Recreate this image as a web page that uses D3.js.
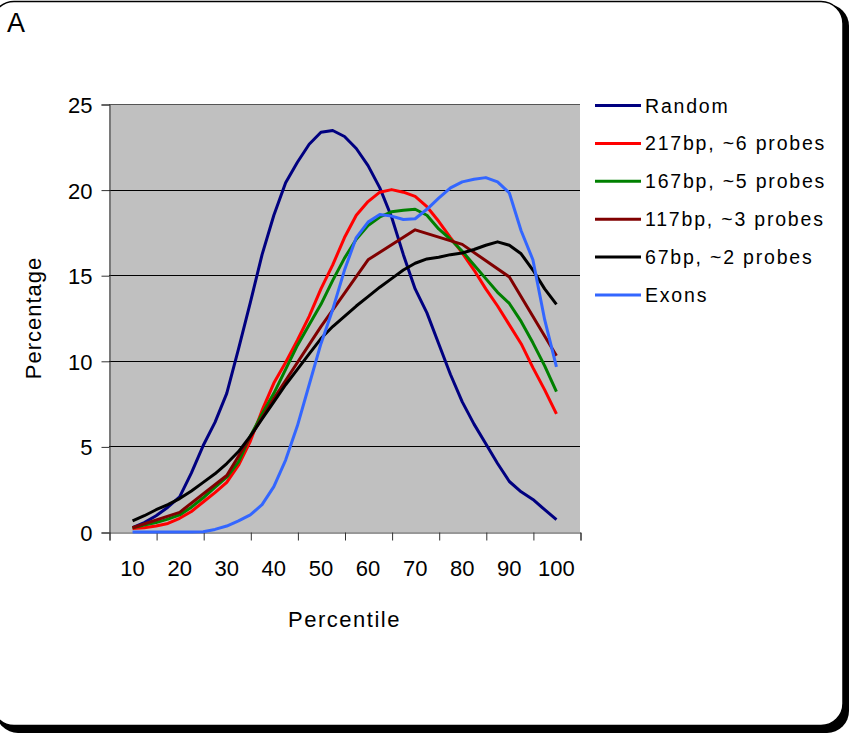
<!DOCTYPE html>
<html>
<head>
<meta charset="utf-8">
<script src="https://cdn.jsdelivr.net/npm/d3@7"></script>
<style>
  body { margin: 0; background: #fff; }
  svg { display: block; font-family: "Liberation Sans", Arial, sans-serif; }
</style>
</head>
<body>
<div id="chart"></div>
<script>
// percentile positions for the finely sampled series
const pctFine = [10, 12.5, 15, 17.5, 20, 22.5, 25, 27.5, 30, 32.5, 35, 37.5, 40, 42.5, 45, 47.5, 50,
    52.5, 55, 57.5, 60, 62.5, 65, 67.5, 70, 72.5, 75, 77.5, 80, 82.5, 85, 87.5, 90, 92.5, 95, 97.5, 100];
const pctCoarse = [10, 20, 30, 40, 50, 60, 70, 80, 90, 100];
const xTickLabels = [10, 20, 30, 40, 50, 60, 70, 80, 90, 100];
const yTicks = [0, 5, 10, 15, 20, 25];

const randomVals = [0.25, 0.55, 0.95, 1.45, 2.05, 3.45, 5.05, 6.4, 8.1, 10.7, 13.4, 16.2, 18.5, 20.4, 21.6, 22.65, 23.35,
    23.45, 23.1, 22.4, 21.4, 20.1, 18.4, 16.2, 14.2, 12.8, 11.0, 9.2, 7.6, 6.3, 5.15, 4.0, 2.95, 2.35, 1.9, 1.3, 0.72];
const bp217Vals = [0.2, 0.25, 0.35, 0.5, 0.8, 1.2, 1.75, 2.3, 2.9, 3.9, 5.3, 7.1, 8.7, 9.9, 11.2, 12.6, 14.2,
    15.6, 17.2, 18.5, 19.3, 19.85, 20.0, 19.85, 19.6, 19.0, 18.15, 17.2, 16.3, 15.3, 14.2, 13.2, 12.1, 11.0, 9.6, 8.3, 6.9];
const bp167Vals = [0.25, 0.4, 0.55, 0.75, 1.0, 1.45, 2.0, 2.6, 3.2, 4.1, 5.6, 6.9, 8.1, 9.5, 10.9, 12.1, 13.3,
    14.7, 16.0, 17.1, 17.9, 18.4, 18.7, 18.8, 18.85, 18.5, 17.7, 17.1, 16.4, 15.6, 14.8, 14.0, 13.35, 12.3, 11.05, 9.7, 8.2];
const bp67Vals = [0.65, 0.95, 1.3, 1.6, 1.95, 2.4, 2.9, 3.4, 4.0, 4.7, 5.6, 6.6, 7.6, 8.6, 9.5, 10.4, 11.3,
    12.0, 12.6, 13.2, 13.75, 14.3, 14.8, 15.3, 15.7, 15.95, 16.05, 16.2, 16.3, 16.5, 16.75, 16.95, 16.75, 16.25, 15.3, 14.2, 13.3];
const exonVals = [0, 0, 0, 0, 0, 0, 0.02, 0.15, 0.35, 0.65, 1.0, 1.6, 2.65, 4.2, 6.2, 8.6, 11.0,
    13.0, 15.3, 17.2, 18.1, 18.55, 18.45, 18.25, 18.3, 18.85, 19.5, 20.1, 20.45, 20.6, 20.7, 20.45, 19.8, 17.6, 15.9, 12.4, 9.65];
const bp117Vals = [0.25, 1.15, 3.3, 7.8, 12.0, 15.9, 17.65, 16.8, 14.9, 10.3];

const seriesNames = ['Random', '217bp, ~6 probes', '167bp, ~5 probes', '117bp, ~3 probes', '67bp, ~2 probes', 'Exons'];
const seriesColors = ['#000080', '#ff0000', '#008000', '#800000', '#000000', '#3366ff'];

const series = [
    {name: seriesNames[0], x: pctFine, y: randomVals, color: seriesColors[0]},
    {name: seriesNames[1], x: pctFine, y: bp217Vals, color: seriesColors[1]},
    {name: seriesNames[2], x: pctFine, y: bp167Vals, color: seriesColors[2]},
    {name: seriesNames[3], x: pctCoarse, y: bp117Vals, color: seriesColors[3]},
    {name: seriesNames[4], x: pctFine, y: bp67Vals, color: seriesColors[4]},
    {name: seriesNames[5], x: pctFine, y: exonVals, color: seriesColors[5]}
];

const width = 850, height = 733;
const plot = {left: 109, right: 580, top: 104, bottom: 532};

const svg = d3.select('#chart').append('svg')
    .attr('width', width)
    .attr('height', height);

// frame with shadow
svg.append('rect')
    .attr('x', -4).attr('y', 4)
    .attr('width', 853).attr('height', 729)
    .attr('rx', 22).attr('ry', 22)
    .attr('fill', '#000');
svg.append('rect')
    .attr('x', -8).attr('y', 1.5)
    .attr('width', 851).attr('height', 724)
    .attr('rx', 22).attr('ry', 22)
    .attr('fill', '#fff')
    .attr('stroke', '#000')
    .attr('stroke-width', 1.5);

svg.append('text')
    .attr('x', 7).attr('y', 32)
    .attr('font-size', 27)
    .text('A');

const x = d3.scaleLinear().domain([5, 105]).range([plot.left, plot.right]);
const y = d3.scaleLinear().domain([0, 25]).range([plot.bottom, plot.top]);

// plot background
svg.append('rect')
    .attr('x', plot.left).attr('y', plot.top)
    .attr('width', plot.right - plot.left)
    .attr('height', plot.bottom - plot.top)
    .attr('fill', '#c0c0c0');

// gridlines
svg.append('g')
    .selectAll('line')
    .data(yTicks.filter(d => d > 0))
    .join('line')
    .attr('x1', plot.left).attr('x2', plot.right)
    .attr('y1', d => Math.round(y(d)) + 0.5)
    .attr('y2', d => Math.round(y(d)) + 0.5)
    .attr('stroke', d => d == 25 ? '#555' : '#000')
    .attr('stroke-width', 1);

// y axis
const yAxis = d3.axisLeft(y).tickValues(yTicks).tickSize(8).tickPadding(9);
const yg = svg.append('g')
    .attr('transform', `translate(${plot.left + 0.5},0.5)`)
    .call(yAxis);
yg.select('.domain').attr('stroke', '#333');
yg.selectAll('.tick line').attr('stroke', '#333');
yg.selectAll('text').attr('font-size', 22).attr('font-family', '"Liberation Sans", Arial, sans-serif')
    .attr('fill', '#000').attr('dy', '0.36em');

// x axis: marks between categories, labels on the categories
const xMarks = d3.axisBottom(x).tickValues(xTickLabels.map(d => d - 5).concat([105])).tickSize(8).tickFormat('');
const xg = svg.append('g')
    .attr('transform', `translate(0.5,${plot.bottom + 0.5})`)
    .call(xMarks);
xg.select('.domain').attr('stroke', '#333');
xg.selectAll('.tick line').attr('stroke', '#333');

svg.append('g')
    .selectAll('text')
    .data(xTickLabels)
    .join('text')
    .attr('x', d => x(d))
    .attr('y', 576)
    .attr('text-anchor', 'middle')
    .attr('font-size', 22)
    .text(d => d);

// axis titles
svg.append('text')
    .attr('x', (plot.left + plot.right) / 2)
    .attr('y', 627)
    .attr('text-anchor', 'middle')
    .attr('font-size', 22)
    .attr('letter-spacing', 1.5)
    .text('Percentile');

svg.append('text')
    .attr('transform', `translate(41,${(plot.top + plot.bottom) / 2}) rotate(-90)`)
    .attr('text-anchor', 'middle')
    .attr('font-size', 22)
    .attr('letter-spacing', 1)
    .text('Percentage');

// series lines
const line = d3.line()
    .x(d => x(d[0]))
    .y(d => y(d[1]));

svg.append('g')
    .selectAll('path')
    .data(series)
    .join('path')
    .attr('d', s => line(d3.zip(s.x, s.y)))
    .attr('fill', 'none')
    .attr('stroke', s => s.color)
    .attr('stroke-width', 3)
    .attr('stroke-linejoin', 'round');

// legend
const legend = svg.append('g')
    .selectAll('g')
    .data(series)
    .join('g')
    .attr('transform', (d, i) => `translate(595,${105.5 + i * 37.9})`);

legend.append('line')
    .attr('x1', 0).attr('x2', 46)
    .attr('stroke', d => d.color)
    .attr('stroke-width', 3);

legend.append('text')
    .attr('x', 50)
    .attr('dy', '0.36em')
    .attr('font-size', 19.5)
    .attr('letter-spacing', 1.8)
    .text(d => d.name);
</script>
</body>
</html>
